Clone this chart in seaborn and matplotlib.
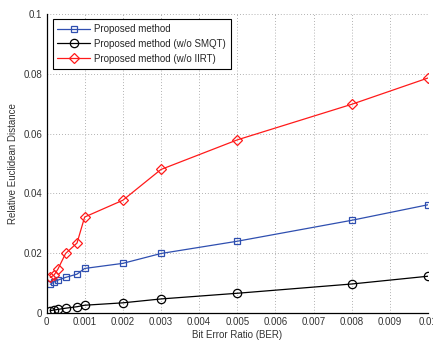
import matplotlib
matplotlib.use("Agg")
import matplotlib.pyplot as plt
from matplotlib.ticker import FuncFormatter, AutoMinorLocator
import seaborn as sns
import pandas as pd

ber = [0.0001, 0.0002, 0.0003, 0.0005, 0.0008, 0.001, 0.002, 0.003, 0.005, 0.008, 0.01]
proposed = [0.0096, 0.0104, 0.0110, 0.0119, 0.0130, 0.0149, 0.0166, 0.0199, 0.0240, 0.0310, 0.0362]
no_smqt = [0.0008, 0.0010, 0.0012, 0.0016, 0.0021, 0.0026, 0.0034, 0.0047, 0.0066, 0.0097, 0.0123]
no_iirt = [0.0119, 0.0127, 0.0147, 0.0199, 0.0234, 0.0321, 0.0377, 0.0480, 0.0579, 0.0698, 0.0786]

labels = ["Proposed method", "Proposed method (w/o SMQT)", "Proposed method (w/o IIRT)"]
series = [proposed, no_smqt, no_iirt]
colors = ["#2f4fb0", "#000000", "#ff1a1a"]
markers = ["s", "o", "D"]
msizes = [4.5, 6.0, 5.5]

x_ticks = [0, 0.001, 0.002, 0.003, 0.004, 0.005, 0.006, 0.007, 0.008, 0.009, 0.01]
y_ticks = [0, 0.02, 0.04, 0.06, 0.08, 0.1]

sns.set_style("white")
plt.rcParams['font.family'] = ['Liberation Sans', 'DejaVu Sans']

fig = plt.figure(figsize=(4.33, 3.42), dpi=100)
ax = fig.add_axes([46.5 / 433, 1 - 313 / 342, (428 - 46.5) / 433, (313 - 14) / 342])

for lab, vals, c, m, ms in zip(labels, series, colors, markers, msizes):
    df = pd.DataFrame({"BER": ber, "val": vals})
    sns.lineplot(data=df, x="BER", y="val", ax=ax, color=c, marker=m, markersize=ms,
                 markerfacecolor="none", markeredgecolor=c, markeredgewidth=0.9,
                 linewidth=0.9, label=lab)

ax.set_xlim(0, 0.01)
ax.set_ylim(0, 0.1)
ax.set_xticks(x_ticks)
ax.set_yticks(y_ticks)
fmt = FuncFormatter(lambda v, p: "%g" % round(v, 6))
ax.xaxis.set_major_formatter(fmt)
ax.yaxis.set_major_formatter(fmt)
ax.xaxis.set_minor_locator(AutoMinorLocator(5))
ax.yaxis.set_minor_locator(AutoMinorLocator(5))
ax.tick_params(axis="both", which="major", direction="in", length=3, width=0.7,
               labelsize=7, colors="#222222", pad=3)
ax.tick_params(axis="both", which="minor", direction="in", length=1.5, width=0.5)
ax.tick_params(axis="both", labelcolor="#333333")

ax.grid(True, which="major", linestyle=(0, (1, 2.5)), linewidth=0.6, color="#999999")
for s in ["top", "right"]:
    ax.spines[s].set_visible(False)
for s in ["left", "bottom"]:
    ax.spines[s].set_color("#000000")
    ax.spines[s].set_linewidth(0.9)

ax.set_xlabel("Bit Error Ratio (BER)", fontsize=7, color="#333333", labelpad=2)
ax.set_ylabel("Relative Euclidean Distance", fontsize=7, color="#333333", labelpad=4)

leg = ax.legend(loc="upper left", bbox_to_anchor=(0.016, 0.983), borderaxespad=0,
                fontsize=7, frameon=True, fancybox=False, edgecolor="black", framealpha=1,
                handlelength=3.3, borderpad=0.5, labelspacing=0.5, handletextpad=0.5)
leg.get_frame().set_linewidth(0.8)

fig.savefig("out.png", dpi=100)
